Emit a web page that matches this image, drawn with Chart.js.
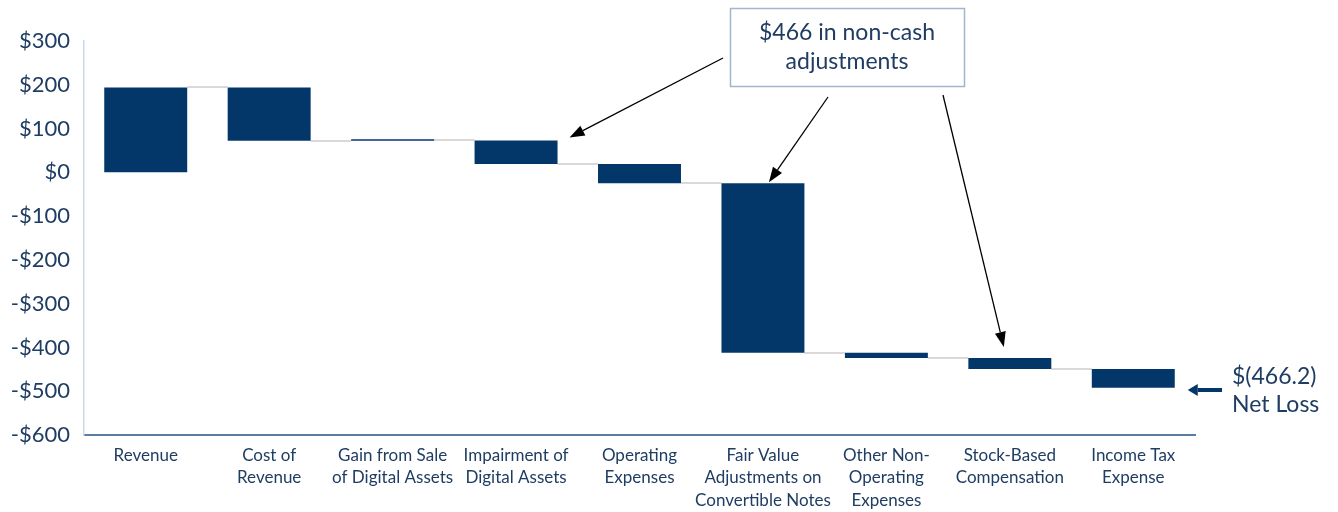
<!DOCTYPE html>
<html>
<head>
<meta charset="utf-8">
<script src="https://cdn.jsdelivr.net/npm/chart.js@4.4.1/dist/chart.umd.min.js"></script>
<style>
  html, body { margin: 0; padding: 0; background: #ffffff; }
  #wrap { width: 1338px; height: 512px; position: relative; }
</style>
</head>
<body>
<div id="wrap"><canvas id="c" width="1338" height="512"></canvas></div>
<script>
const categories = [
  ["Revenue"],
  ["Cost of", "Revenue"],
  ["Gain from Sale", "of Digital Assets"],
  ["Impairment of", "Digital Assets"],
  ["Operating", "Expenses"],
  ["Fair Value", "Adjustments on", "Convertible Notes"],
  ["Other Non-", "Operating", "Expenses"],
  ["Stock-Based", "Compensation"],
  ["Income Tax", "Expense"]
];
const barStart = [0, 194, 72, 72.5, 19, -25, -412, -424, -449];
const barEnd   = [194, 72, 73, 19, -25, -412, -424, -449, -492];
const yTicks = [300, 200, 100, 0, -100, -200, -300, -400, -500, -600];
const calloutText = ["$466 in non-cash", "adjustments"];
const netLossText = ["$(466.2)", "Net Loss"];

const NAVY = "#033769";
const TEXT = "#1f3d63";
const FONT = "Lato, 'Open Sans', sans-serif";

const floats = barStart.map((s, i) => [s, barEnd[i]]);

function fmt(v) {
  return v < 0 ? "-$" + Math.abs(v) : "$" + v;
}

function arrow(ctx, x1, y1, x2, y2, color, lw, headLen, headW) {
  const ang = Math.atan2(y2 - y1, x2 - x1);
  const bx = x2 - headLen * Math.cos(ang);
  const by = y2 - headLen * Math.sin(ang);
  ctx.save();
  ctx.strokeStyle = color;
  ctx.fillStyle = color;
  ctx.lineWidth = lw;
  ctx.beginPath();
  ctx.moveTo(x1, y1);
  ctx.lineTo(bx, by);
  ctx.stroke();
  ctx.beginPath();
  ctx.moveTo(x2, y2);
  ctx.lineTo(bx + headW / 2 * Math.sin(ang), by - headW / 2 * Math.cos(ang));
  ctx.lineTo(bx - headW / 2 * Math.sin(ang), by + headW / 2 * Math.cos(ang));
  ctx.closePath();
  ctx.fill();
  ctx.restore();
}

const connectors = {
  id: "connectors",
  beforeDatasetsDraw(chart) {
    const ctx = chart.ctx;
    const meta = chart.getDatasetMeta(0);
    const y = chart.scales.y;
    ctx.save();
    ctx.strokeStyle = "#d9d9d9";
    ctx.lineWidth = 2;
    for (let i = 0; i < meta.data.length - 1; i++) {
      const a = meta.data[i], b = meta.data[i + 1];
      const yy = Math.round(y.getPixelForValue(barEnd[i]));
      ctx.beginPath();
      ctx.moveTo(a.x + a.width / 2, yy);
      ctx.lineTo(b.x - b.width / 2, yy);
      ctx.stroke();
    }
    ctx.restore();
  }
};

const annotations = {
  id: "annotations",
  afterDraw(chart) {
    const ctx = chart.ctx;
    const meta = chart.getDatasetMeta(0);
    const y = chart.scales.y;
    // callout box
    ctx.save();
    ctx.fillStyle = "#ffffff";
    ctx.fillRect(730, 8, 235, 79);
    ctx.strokeStyle = "#9fb6cf";
    ctx.lineWidth = 1.5;
    ctx.strokeRect(730.5, 8.5, 234, 78);
    ctx.fillStyle = TEXT;
    ctx.font = "23px " + FONT;
    ctx.textAlign = "center";
    ctx.textBaseline = "middle";
    ctx.fillText(calloutText[0], 847, 33);
    ctx.fillText(calloutText[1], 847, 62);
    ctx.restore();

    // arrows from callout to bars
    const b3 = meta.data[3], b5 = meta.data[5], b7 = meta.data[7];
    arrow(ctx, 723, 58, b3.x + b3.width / 2 + 12, y.getPixelForValue(barStart[3]) - 3, "#000", 1.3, 15, 11);
    arrow(ctx, 828, 97, b5.x + 6, y.getPixelForValue(barStart[5]) - 1, "#000", 1.3, 15, 11);
    arrow(ctx, 943, 95, b7.x - 6, y.getPixelForValue(barStart[7]) - 11, "#000", 1.3, 15, 11);

    // net loss arrow + label
    const b8 = meta.data[8];
    arrow(ctx, 1222, 390, b8.x + b8.width / 2 + 13, 390, NAVY, 4, 10, 12);
    ctx.save();
    ctx.fillStyle = TEXT;
    ctx.font = "23px " + FONT;
    ctx.textAlign = "left";
    ctx.textBaseline = "middle";
    ctx.fillText(netLossText[0], 1232, 377);
    ctx.fillText(netLossText[1], 1232, 405);
    ctx.restore();
  }
};

new Chart(document.getElementById("c"), {
  type: "bar",
  data: {
    labels: categories,
    datasets: [{
      data: floats,
      backgroundColor: NAVY,
      borderWidth: 0,
      barPercentage: 0.672,
      categoryPercentage: 1.0,
      minBarLength: 1.5
    }]
  },
  options: {
    responsive: false,
    animation: false,
    devicePixelRatio: 1,
    layout: { padding: { top: 41, right: 143, bottom: 0, left: 0 } },
    plugins: { legend: { display: false }, tooltip: { enabled: false } },
    scales: {
      x: {
        grid: { display: false, drawTicks: false },
        border: { display: true, color: "#5a7ca3", width: 2 },
        ticks: {
          color: TEXT,
          font: { family: FONT, size: 17, lineHeight: 1.32 },
          padding: 9,
          maxRotation: 0,
          autoSkip: false
        },
        afterFit(scale) { scale.height = 77; }
      },
      y: {
        min: -600,
        max: 300,
        afterBuildTicks(scale) { scale.ticks = yTicks.map(v => ({ value: v })); },
        grid: { display: false, drawTicks: false },
        border: { display: true, color: "#c9d9ea", width: 1.5 },
        ticks: {
          color: TEXT,
          font: { family: FONT, size: 22 },
          padding: 14,
          callback: v => fmt(v)
        },
        afterFit(scale) { scale.width = 84; }
      }
    }
  },
  plugins: [connectors, annotations]
});
</script>
</body>
</html>
